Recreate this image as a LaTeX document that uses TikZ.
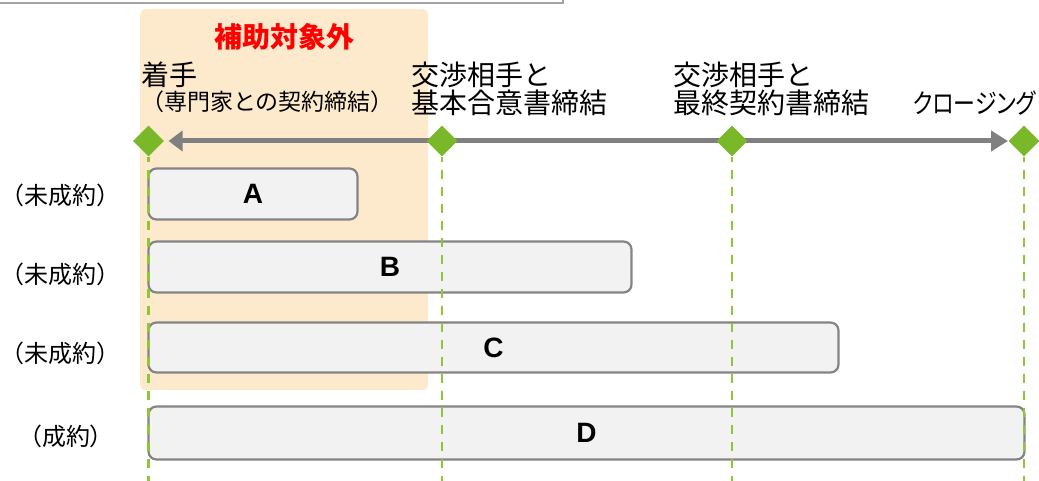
\documentclass[tikz,border=0pt]{standalone}
\usepackage{fontspec}
\setmainfont{Liberation Sans}
\newfontfamily\jp{Noto Sans CJK JP}
\newfontfamily\jpprop{Noto Sans CJK JP}[RawFeature=+palt]
\usetikzlibrary{shapes.geometric,arrows.meta}
\definecolor{zonebg}{RGB}{253,234,205}
\definecolor{mgreen}{RGB}{122,184,42}
\definecolor{greenline}{RGB}{142,198,58}
\definecolor{barfill}{RGB}{242,242,242}
\definecolor{barline}{RGB}{132,132,132}
\definecolor{axisgray}{RGB}{128,128,128}
\definecolor{framegray}{RGB}{165,165,165}
\begin{document}
\begin{tikzpicture}[x=1pt,y=-1pt,
  zone/.style={fill=zonebg, rounded corners=5pt, inner sep=0pt, anchor=north west},
  zonetitle/.style={font=\jp\bfseries\fontsize{28}{28}\selectfont, text=red, anchor=base, inner sep=0pt},
  milestone/.style={font=\jp\fontsize{28}{28}\selectfont, anchor=base west, inner sep=0pt},
  sublabel/.style={font=\jp\fontsize{23}{23}\selectfont, anchor=base west, inner sep=0pt},
  rowlabel/.style={font=\jp\fontsize{24}{24}\selectfont, anchor=base, inner sep=0pt},
  bar/.style={draw=barline, fill=barfill, line width=2.2pt, rounded corners=8pt,
    inner sep=0pt, font=\bfseries\fontsize{28}{28}\selectfont},
  gem/.style={shape=diamond, fill=mgreen, minimum width=31pt, minimum height=31pt, inner sep=0pt},
  axis/.style={draw=axisgray, line width=5pt, {Triangle[length=14pt,width=20pt]}-{Triangle[length=17pt,width=20pt]}},
  guide/.style={draw=greenline, line width=2.5pt, dash pattern=on 9pt off 8pt, dash phase=4pt}
]
\useasboundingbox (0,0) rectangle (1039,481);
% cut-off frame at the top
\draw[framegray, line width=1.5pt] (-10,-10) rectangle (563,3);
% non-subsidised zone
\node[zone, minimum width=288pt, minimum height=381pt] (zone) at (140,9) {};
\node[zonetitle] (zonetitle) at (284,48) {補助対象外};
% milestone labels
\node[milestone] (m1a) at (141.5,86) {着手};
\node[sublabel] (m1b) at (141,111) {（専門家との契約締結）};
\node[milestone] (m2a) at (411.5,86) {交渉相手と};
\node[milestone] (m2b) at (411.5,114) {基本合意書締結};
\node[milestone] (m3a) at (673.5,86) {交渉相手と};
\node[milestone] (m3b) at (673.5,114) {最終契約書締結};
\node[milestone, anchor=base east, font=\jpprop\fontsize{27}{27}\selectfont, xscale=0.81] (m4b) at (1036,114) {クロージング};
% milestone points
\coordinate (p1) at (148.5,141);
\coordinate (p2) at (442,141);
\coordinate (p3) at (732,141);
\coordinate (p4) at (1024,141);
\coordinate (e1) at (148.5,485);
\coordinate (e2) at (442,485);
\coordinate (e3) at (732,485);
\coordinate (e4) at (1024,485);
% time axis
\draw[axis] ([xshift=20pt]p1) -- ([xshift=-16pt]p4);
% row labels
\node[rowlabel] (r1) at (61,205) {（未成約）};
\node[rowlabel] (r2) at (61,283.5) {（未成約）};
\node[rowlabel] (r3) at (61,362.5) {（未成約）};
\node[rowlabel] (r4) at (66,445) {（成約）};
% bars
\node[bar, minimum width=209pt, minimum height=51pt] (A) at (253,194) {A};
\node[bar, minimum width=483pt, minimum height=51pt] (B) at (390,267) {B};
\node[bar, minimum width=690pt, minimum height=50pt] (C) at (493.5,347.5) {C};
\node[bar, minimum width=876pt, minimum height=53pt] (D) at (586.5,433) {D};
% milestone diamonds
\node[gem] (d1) at (p1) {};
\node[gem] (d2) at (p2) {};
\node[gem] (d3) at (p3) {};
\node[gem] (d4) at (p4) {};
% guide lines
\draw[guide] (d1.south) -- (e1);
\draw[guide] (d2.south) -- (e2);
\draw[guide] (d3.south) -- (e3);
\draw[guide] (d4.south) -- (e4);
\end{tikzpicture}
\end{document}
